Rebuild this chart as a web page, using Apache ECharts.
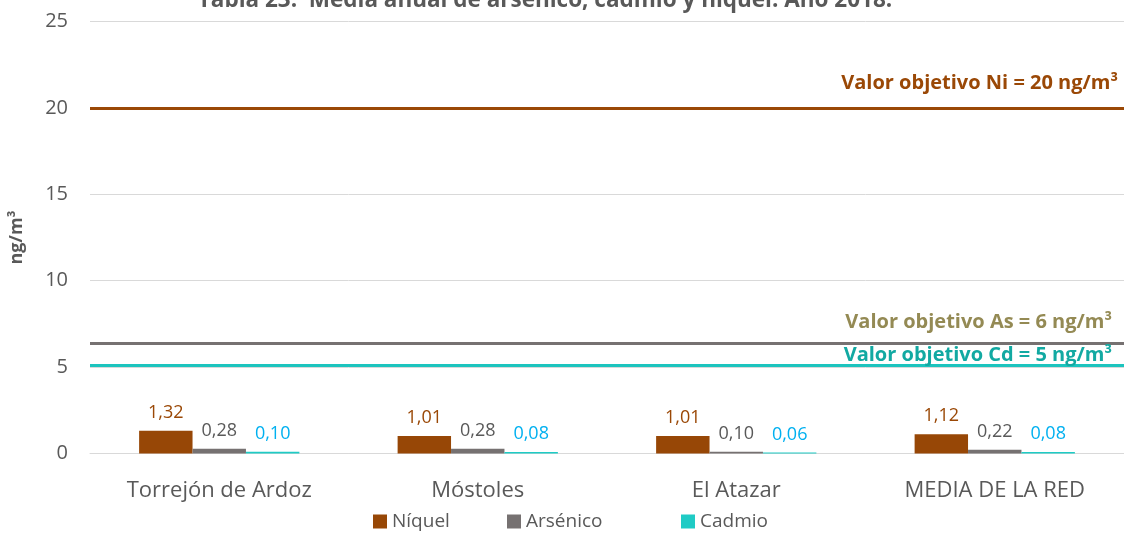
<!DOCTYPE html>
<html><head><meta charset="utf-8">
<script src="https://cdn.jsdelivr.net/npm/echarts@6/dist/echarts.min.js"></script>
<style>html,body{margin:0;padding:0;background:#fff}#c{width:1124px;height:535px}</style>
</head><body><div id="c"></div>
<script>
const categories = ['Torrejón de Ardoz', 'Móstoles', 'El Atazar', 'MEDIA DE LA RED'];
const niquel = [1.32, 1.01, 1.01, 1.12];
const arsenico = [0.28, 0.28, 0.10, 0.22];
const cadmio = [0.10, 0.08, 0.06, 0.08];
const seriesNames = ['Níquel', 'Arsénico', 'Cadmio'];
const yTicks = [0, 5, 10, 15, 20, 25];
const refLines = [
  { value: 20, label: 'Valor objetivo Ni = 20 ng/m³' },
  { value: 6.4, label: 'Valor objetivo As = 6 ng/m³' },
  { value: 5.08, label: 'Valor objetivo Cd = 5 ng/m³' }
];
const title = 'Tabla 23.  Media anual de arsénico, cadmio y níquel. Año 2018.';

const FONT = '"Open Sans", sans-serif';
const fmt = v => v.toFixed(2).replace('.', ',');
const chart = echarts.init(document.getElementById('c'), null, { renderer: 'canvas' });

function barSeries(name, data, color, labelColor, extra) {
  return Object.assign({
    name, type: 'bar', data,
    barGap: '0%', barCategoryGap: '38%',
    itemStyle: { color },
    label: { show: true, position: 'top', distance: 9, color: labelColor, fontFamily: FONT, fontSize: 18,
      formatter: p => fmt(p.value) }
  }, extra || {});
}

const lineColors = ['#9A4806', '#767171', '#1CC4BE'];
const labelColors = ['#9A4806', '#948A54', '#12A9A2'];
const labelDist = [[6, 15], [12, 11], [12, 0]];
const legendLeft = [373, 507, 681];

chart.setOption({
  animation: false,
  textStyle: { fontFamily: FONT },
  title: { text: title, left: 545, textAlign: 'center', top: -11, padding: 0,
    textStyle: { fontFamily: FONT, fontSize: 22.5, fontWeight: 'bold', color: '#595959' } },
  grid: { left: 90, right: 0, top: 21.5, bottom: 81.5, containLabel: false },
  legend: seriesNames.map((n, i) => ({ data: [n], left: legendLeft[i], bottom: 4, padding: 0,
    itemWidth: 14, itemHeight: 14, itemGap: 0, icon: 'rect',
    textStyle: { fontFamily: FONT, fontSize: 19, color: '#595959' } })),
  xAxis: { type: 'category', data: categories,
    axisLine: { lineStyle: { color: '#D9D9D9', width: 1 } }, axisTick: { show: false },
    axisLabel: { fontFamily: FONT, fontSize: 22, color: '#595959', margin: 26 } },
  yAxis: { type: 'value', min: yTicks[0], max: yTicks[yTicks.length - 1], interval: 5,
    name: 'ng/m³', nameLocation: 'middle', nameGap: 64, nameRotate: 90,
    nameTextStyle: { fontFamily: FONT, fontSize: 18, fontWeight: 'bold', color: '#595959' },
    axisLine: { show: false }, axisTick: { show: false },
    axisLabel: { fontFamily: FONT, fontSize: 20, color: '#595959', margin: 22 },
    splitLine: { lineStyle: { color: '#D9D9D9', width: 1 } } },
  series: [
    barSeries(seriesNames[0], niquel, '#974706', '#9A4806', {
      markLine: { silent: true, symbol: 'none',
        data: refLines.map((r, i) => ({ yAxis: r.value,
          lineStyle: { color: lineColors[i], width: 3, type: 'solid' },
          label: { show: true, position: 'insideEndTop', formatter: r.label, distance: labelDist[i],
            color: labelColors[i], fontFamily: FONT, fontSize: 20, fontWeight: 'bold' } })) }
    }),
    barSeries(seriesNames[1], arsenico, '#767171', '#595959'),
    barSeries(seriesNames[2], cadmio, '#1FCBC5', '#00B0F0')
  ]
});
</script></body></html>
